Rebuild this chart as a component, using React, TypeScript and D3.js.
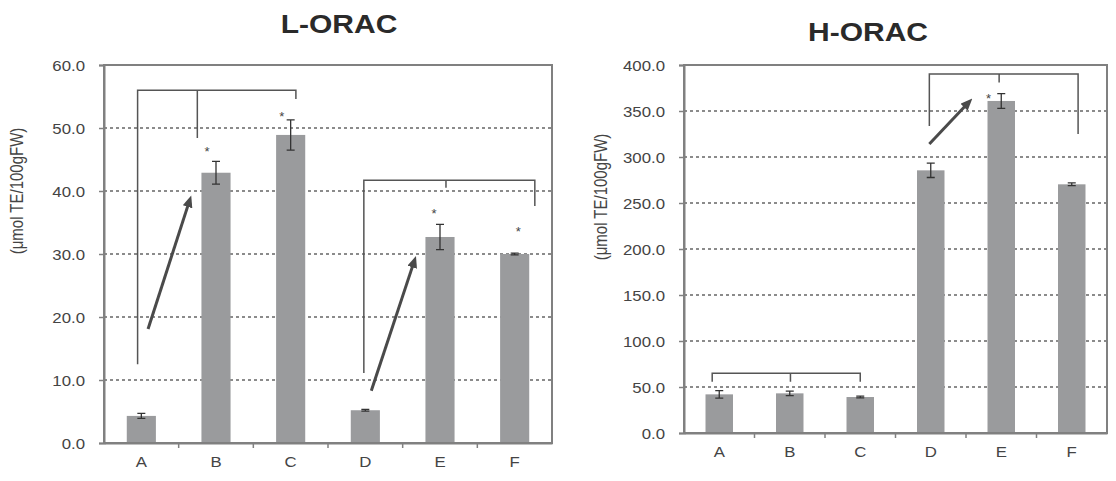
import { useEffect, useRef } from 'react';
import * as d3 from 'd3';

const categories = ["A", "B", "C", "D", "E", "F"];

const lOracValues = [4.3, 42.9, 48.9, 5.2, 32.7, 30.0];
const lOracErrors = [0.4, 1.8, 2.4, 0.15, 2.0, 0.15];
const lOracTicks = [0, 10, 20, 30, 40, 50, 60];

const hOracValues = [42.0, 43.1, 39.1, 285.5, 360.9, 270.3];
const hOracErrors = [4.0, 2.5, 1.0, 7.8, 8.0, 1.5];
const hOracTicks = [0, 50, 100, 150, 200, 250, 300, 350, 400];

// significance marks: x in band units (0..6), value on the y axis
const lOracStars = [
  { x: 1.38, value: 46.7 },
  { x: 2.38, value: 52.2 },
  { x: 4.42, value: 36.8 },
  { x: 5.55, value: 34.0 },
];
const hOracStars = [{ x: 4.32, value: 366.6 }];

// comparison brackets
const lOracBrackets = [
  { y: 56.0, legs: [{ x: 0.45, to: 12.5 }, { x: 1.25, to: 48.4 }, { x: 2.57, to: 54.6 }] },
  { y: 41.7, legs: [{ x: 3.48, to: 11.1 }, { x: 4.58, to: 40.5 }, { x: 5.77, to: 37.6 }] },
];
const hOracBrackets = [
  { y: 390.2, legs: [{ x: 3.48, to: 333.7 }, { x: 4.47, to: 381.0 }, { x: 5.59, to: 325.0 }] },
  { y: 64.9, legs: [{ x: 0.40, to: 55.8 }, { x: 1.51, to: 55.8 }, { x: 2.50, to: 55.8 }] },
];

// trend arrows
const lOracArrows = [
  { x1: 0.59, y1: 18.1, x2: 1.16, y2: 39.0 },
  { x1: 3.58, y1: 8.3, x2: 4.17, y2: 29.4 },
];
const hOracArrows = [{ x1: 3.48, y1: 314.1, x2: 4.07, y2: 362.0 }];

const FONT = "'Liberation Sans', Arial, sans-serif";
const STRETCH = 1.2; // the source picture is slightly widened

interface Panel {
  title: string;
  values: number[];
  errors: number[];
  ticks: number[];
  stars: { x: number; value: number }[];
  brackets: { y: number; legs: { x: number; to: number }[] }[];
  arrows: { x1: number; y1: number; x2: number; y2: number }[];
  left: number; right: number; top: number; bottom: number;
  titleX: number; titleY: number;
  labelX: number; labelY: number;
  catY: number;
}

const panels: Panel[] = [
  {
    title: "L-ORAC", values: lOracValues, errors: lOracErrors, ticks: lOracTicks,
    stars: lOracStars, brackets: lOracBrackets, arrows: lOracArrows,
    left: 104, right: 552, top: 65, bottom: 443,
    titleX: 339, titleY: 33, labelX: 23, labelY: 191, catY: 467,
  },
  {
    title: "H-ORAC", values: hOracValues, errors: hOracErrors, ticks: hOracTicks,
    stars: hOracStars, brackets: hOracBrackets, arrows: hOracArrows,
    left: 684, right: 1107, top: 65, bottom: 433,
    titleX: 868, titleY: 41, labelX: 607, labelY: 197, catY: 457,
  },
];

function drawPanel(svg: d3.Selection<SVGSVGElement, unknown, null, undefined>, p: Panel) {
  const g = svg.append("g");
  const maxV = p.ticks[p.ticks.length - 1];

  const x = d3.scaleBand().domain(categories).range([p.left, p.right]);
  const ax = d3.scaleLinear().domain([0, categories.length]).range([p.left, p.right]);
  const y = d3.scaleLinear().domain([0, maxV]).range([p.bottom, p.top]);
  const barW = x.bandwidth() * 0.39;

  // dotted grid lines
  g.append("g")
    .selectAll("line")
    .data(p.ticks.filter(t => t > 0 && t < maxV))
    .enter()
    .append("line")
    .attr("x1", p.left).attr("x2", p.right)
    .attr("y1", d => y(d)).attr("y2", d => y(d))
    .attr("stroke", "#666")
    .attr("stroke-width", 1.4)
    .attr("stroke-dasharray", "3,3");

  // bars
  g.append("g")
    .selectAll("rect")
    .data(p.values)
    .enter()
    .append("rect")
    .attr("x", (d, i) => (x(categories[i]) || 0) + (x.bandwidth() - barW) / 2)
    .attr("width", barW)
    .attr("y", d => y(d))
    .attr("height", d => p.bottom - y(d))
    .attr("fill", "#9a9b9d");

  // error bars
  const eb = g.append("g").attr("stroke", "#333").attr("stroke-width", 1.3).attr("fill", "none");
  p.values.forEach((v, i) => {
    const cx = (x(categories[i]) || 0) + x.bandwidth() / 2;
    const e = p.errors[i];
    eb.append("path")
      .attr("d", `M${cx},${y(v + e)}V${y(v - e)}M${cx - 4},${y(v + e)}H${cx + 4}M${cx - 4},${y(v - e)}H${cx + 4}`);
  });

  // frame
  g.append("rect")
    .attr("x", p.left).attr("y", p.top)
    .attr("width", p.right - p.left).attr("height", p.bottom - p.top)
    .attr("fill", "none")
    .attr("stroke", "#808080")
    .attr("stroke-width", 2);

  // y axis
  const yAxis = g.append("g")
    .attr("transform", `translate(${p.left},0)`)
    .call(d3.axisLeft(y).tickValues(p.ticks).tickSize(5).tickFormat(d3.format(".1f")));
  yAxis.select(".domain").attr("stroke", "#808080").attr("stroke-width", 2);
  yAxis.selectAll(".tick line").attr("stroke", "#808080").attr("stroke-width", 1.5);
  yAxis.selectAll(".tick text")
    .attr("x", null).attr("dy", null)
    .attr("transform", `translate(-19,5) scale(${STRETCH},1)`)
    .attr("fill", "#444")
    .style("font-family", FONT)
    .style("font-size", "14px");

  // x axis: labels at centres, ticks at band edges
  const xAxis = g.append("g")
    .attr("transform", `translate(0,${p.bottom})`)
    .call(d3.axisBottom(x).tickSize(0));
  xAxis.select(".domain").attr("stroke", "#808080").attr("stroke-width", 2);
  xAxis.selectAll(".tick text")
    .attr("y", null).attr("dy", null)
    .attr("transform", `translate(0,${p.catY - p.bottom}) scale(${STRETCH},1)`)
    .attr("fill", "#444")
    .style("font-family", FONT)
    .style("font-size", "14px");
  g.append("g")
    .selectAll("line")
    .data(categories.slice(1))
    .enter()
    .append("line")
    .attr("x1", d => x(d) || 0).attr("x2", d => x(d) || 0)
    .attr("y1", p.bottom).attr("y2", p.bottom + 5)
    .attr("stroke", "#808080")
    .attr("stroke-width", 1.5);

  // brackets
  p.brackets.forEach(b => {
    const [l, m, r] = b.legs;
    g.append("path")
      .attr("d", `M${ax(l.x)},${y(l.to)}V${y(b.y)}H${ax(r.x)}V${y(r.to)}M${ax(m.x)},${y(b.y)}V${y(m.to)}`)
      .attr("fill", "none")
      .attr("stroke", "#555")
      .attr("stroke-width", 1.5);
  });

  // arrows
  p.arrows.forEach(a => {
    const x1 = ax(a.x1), y1 = y(a.y1), x2 = ax(a.x2), y2 = y(a.y2);
    const len = Math.hypot(x2 - x1, y2 - y1);
    const ux = (x2 - x1) / len, uy = (y2 - y1) / len;
    g.append("line")
      .attr("x1", x1).attr("y1", y1)
      .attr("x2", x2 - ux * 8).attr("y2", y2 - uy * 8)
      .attr("stroke", "#4a4a4a")
      .attr("stroke-width", 3)
      .attr("marker-end", "url(#arrowhead)");
  });

  // stars
  g.append("g")
    .selectAll("text")
    .data(p.stars)
    .enter()
    .append("text")
    .attr("x", d => ax(d.x))
    .attr("y", d => y(d.value) + 7)
    .attr("text-anchor", "middle")
    .attr("fill", "#444")
    .style("font-family", FONT)
    .style("font-size", "13px")
    .text("*");

  // title
  g.append("text")
    .attr("transform", `translate(${p.titleX},${p.titleY}) scale(${STRETCH},1)`)
    .attr("text-anchor", "middle")
    .attr("fill", "#2a2a2a")
    .style("font-family", FONT)
    .style("font-weight", "bold")
    .style("font-size", "25px")
    .text(p.title);

  // y axis title
  g.append("text")
    .attr("transform", `translate(${p.labelX},${p.labelY}) scale(${STRETCH},1) rotate(-90)`)
    .attr("text-anchor", "middle")
    .attr("fill", "#444")
    .style("font-family", FONT)
    .style("font-size", "15px")
    .text("(μmol TE/100gFW)");
}

export default function App() {
  const svgRef = useRef<SVGSVGElement>(null);

  useEffect(() => {
    document.body.style.margin = "0";
    if (!svgRef.current) return;
    const svg = d3.select(svgRef.current);
    svg.selectAll("*").remove();

    svg.append("defs")
      .append("marker")
      .attr("id", "arrowhead")
      .attr("viewBox", "0 0 12 10")
      .attr("refX", 2)
      .attr("refY", 5)
      .attr("markerWidth", 12)
      .attr("markerHeight", 10)
      .attr("markerUnits", "userSpaceOnUse")
      .attr("orient", "auto")
      .append("path")
      .attr("d", "M0,0L12,5L0,10Z")
      .attr("fill", "#4a4a4a");

    panels.forEach(p => drawPanel(svg, p));
  }, []);

  return (
    <svg
      ref={svgRef}
      width={1116}
      height={481}
      style={{ display: "block", background: "#fff" }}
    />
  );
}
